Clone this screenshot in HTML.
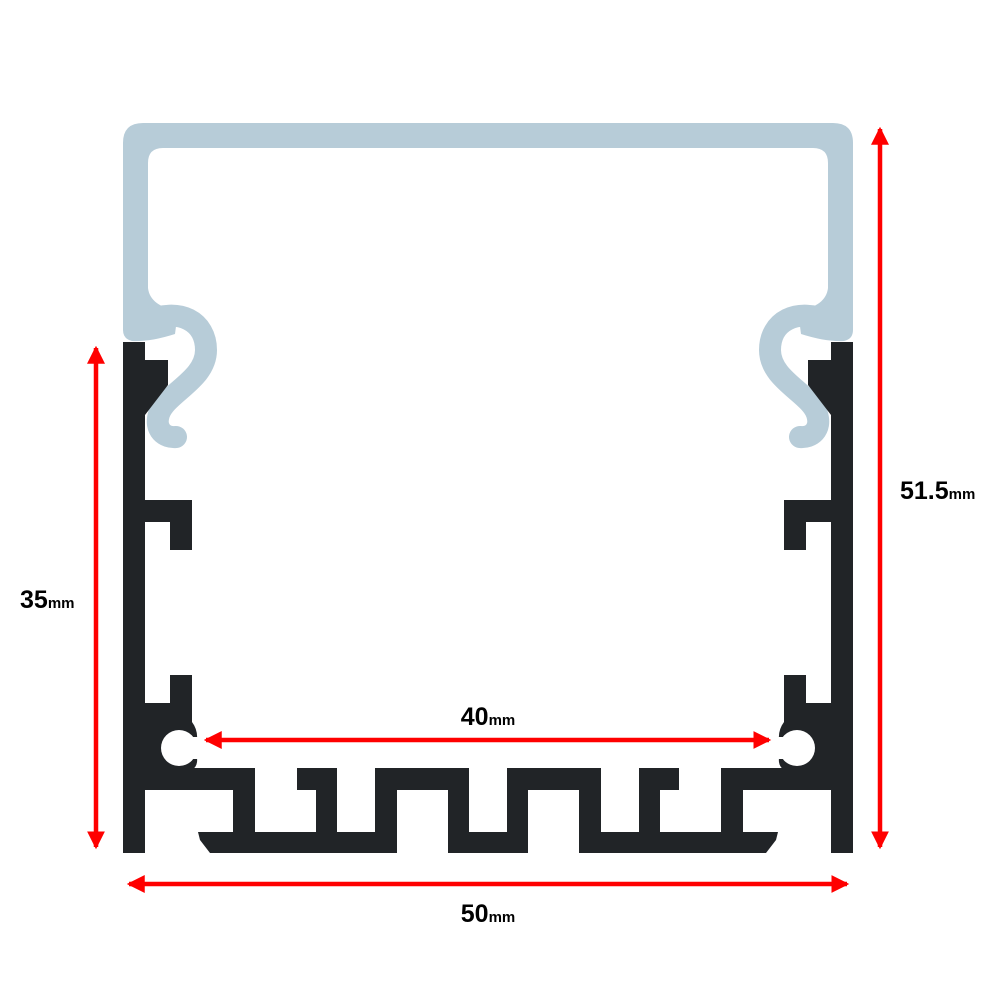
<!DOCTYPE html>
<html><head><style>html,body{margin:0;padding:0;background:#fff;}svg{display:block}</style></head>
<body>
<svg width="1000" height="1000" viewBox="0 0 1000 1000" xmlns="http://www.w3.org/2000/svg">
<defs>
<marker id="ah" markerWidth="4" markerHeight="4" refX="3.5" refY="2" orient="auto-start-reverse" markerUnits="strokeWidth">
<path d="M0,0 L4,2 L0,4 z" fill="#ff0000"/>
</marker>
<g id="half">
  <path d="M123,143 Q123,123 143,123 H489 V148 H163 Q148,148 148,163 V288 Q150,306 178,311 L175,334 Q150,342 132,341 Q123,339 123,330 Z" fill="#b7ccd8"/>
  <path d="M145,322 C180,306 206,322 206,350 C206,380 166,393 159,414 C154,430 165,438 176,437" fill="none" stroke="#b7ccd8" stroke-width="22" stroke-linecap="round" stroke-linejoin="round"/>
  <g fill="#212427">
    <rect x="123" y="342" width="22" height="511"/>
    <polygon points="145,342 145,360 168,360 168,385 145,415"/>
    <rect x="145" y="500" width="47" height="22"/>
    <rect x="170" y="500" width="22" height="50"/>
    <rect x="170" y="675" width="22" height="30"/>
    <path d="M145,703 H192 V722 Q198,730 197,740 V758 Q198,766 192,770 H145 Z"/>
    <rect x="145" y="768" width="110" height="22"/>
    <rect x="233" y="768" width="22" height="70"/>
    <polygon points="198,832 397,832 397,853 210,853 200,840"/>
    <rect x="297" y="768" width="40" height="22"/>
    <rect x="316" y="768" width="21" height="70"/>
    <rect x="375" y="768" width="94" height="22"/>
    <rect x="375" y="768" width="22" height="85"/>
    <rect x="448" y="768" width="21" height="85"/>
    <rect x="448" y="832" width="40" height="21"/>
  </g>
  <circle cx="179" cy="748" r="18" fill="#fff"/>
  <rect x="179" y="737" width="22" height="22" fill="#fff"/>
</g>
</defs>
<use href="#half"/>
<use href="#half" transform="translate(976,0) scale(-1,1)"/>

<g stroke="#ff0000" stroke-width="4.5" fill="none">
  <line x1="96" y1="348" x2="96" y2="847" marker-start="url(#ah)" marker-end="url(#ah)"/>
  <line x1="880" y1="129" x2="880" y2="847" marker-start="url(#ah)" marker-end="url(#ah)"/>
  <line x1="129" y1="884" x2="847" y2="884" marker-start="url(#ah)" marker-end="url(#ah)"/>
  <line x1="206" y1="740" x2="769" y2="740" marker-start="url(#ah)" marker-end="url(#ah)"/>
</g>

<g font-family="Liberation Sans, sans-serif" font-weight="bold" fill="#000">
  <text x="20" y="608" font-size="25">35<tspan font-size="15">mm</tspan></text>
  <text x="900" y="499" font-size="25">51.5<tspan font-size="15">mm</tspan></text>
  <text x="488" y="922" font-size="25" text-anchor="middle">50<tspan font-size="15">mm</tspan></text>
  <text x="488" y="725" font-size="25" text-anchor="middle">40<tspan font-size="15">mm</tspan></text>
</g>
</svg>
</body></html>
